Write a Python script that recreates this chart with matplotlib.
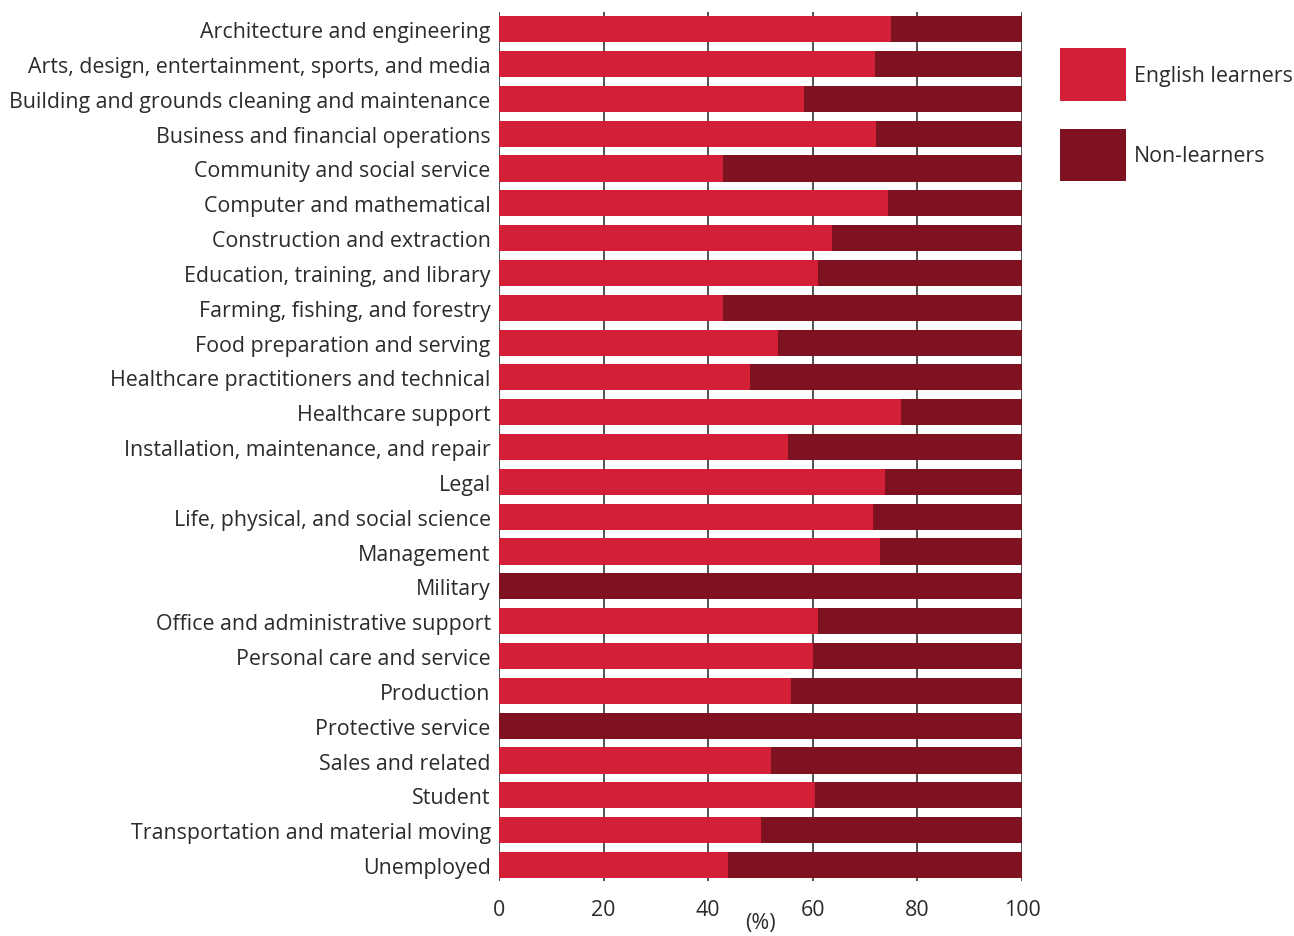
import matplotlib
matplotlib.use("Agg")
import matplotlib.pyplot as plt
import numpy as np

# data (share of English learners, %)
categories = [
    "Architecture and engineering",
    "Arts, design, entertainment, sports, and media",
    "Building and grounds cleaning and maintenance",
    "Business and financial operations",
    "Community and social service",
    "Computer and mathematical",
    "Construction and extraction",
    "Education, training, and library",
    "Farming, fishing, and forestry",
    "Food preparation and serving",
    "Healthcare practitioners and technical",
    "Healthcare support",
    "Installation, maintenance, and repair",
    "Legal",
    "Life, physical, and social science",
    "Management",
    "Military",
    "Office and administrative support",
    "Personal care and service",
    "Production",
    "Protective service",
    "Sales and related",
    "Student",
    "Transportation and material moving",
    "Unemployed",
]
learners = [75.0, 71.9, 58.3, 72.1, 42.8, 74.4, 63.7, 61.0, 42.8, 53.3,
            48.0, 76.9, 55.3, 73.8, 71.5, 72.8, 0.0, 61.0, 60.0, 55.8,
            0.0, 52.0, 60.4, 50.1, 43.8]
non_learners = [100 - v for v in learners]
xticks = [0, 20, 40, 60, 80, 100]

RED = "#D42036"
DARK = "#7F1220"
TXT = "#2b2b2b"
FS = 15.4

plt.rcParams["font.family"] = ["Open Sans", "DejaVu Sans"]

fig = plt.figure(figsize=(12.94, 9.37), dpi=100)
ax = fig.add_axes([0.3856, 0.0587, 0.4042, 0.9273])

y = np.arange(len(categories))
ax.barh(y, learners, height=0.75, color=RED, label="English learners", zorder=2)
ax.barh(y, non_learners, left=learners, height=0.75, color=DARK, label="Non-learners", zorder=2)

ax.set_xlim(0, 100)
ax.set_ylim(24.46, -0.49)
ax.set_xticks(xticks)
ax.set_yticks(y)
ax.set_yticklabels(categories)
ax.tick_params(axis="both", length=0, labelsize=FS, colors=TXT)
ax.tick_params(axis="y", pad=6)
ax.tick_params(axis="x", pad=13)
ax.xaxis.grid(True, color="#333333", linewidth=1.2, zorder=0)
ax.set_axisbelow(True)
for s in ax.spines.values():
    s.set_visible(False)
ax.set_xlabel("(%)", fontsize=FS, color=TXT, labelpad=-6)

ax.legend(loc="upper left", bbox_to_anchor=(1.057, 0.968), frameon=False,
          fontsize=FS, handlelength=3.07, handleheight=3.4, labelspacing=1.3,
          handletextpad=0.35, borderaxespad=0, labelcolor=TXT)

fig.savefig("out.png", dpi=100)
